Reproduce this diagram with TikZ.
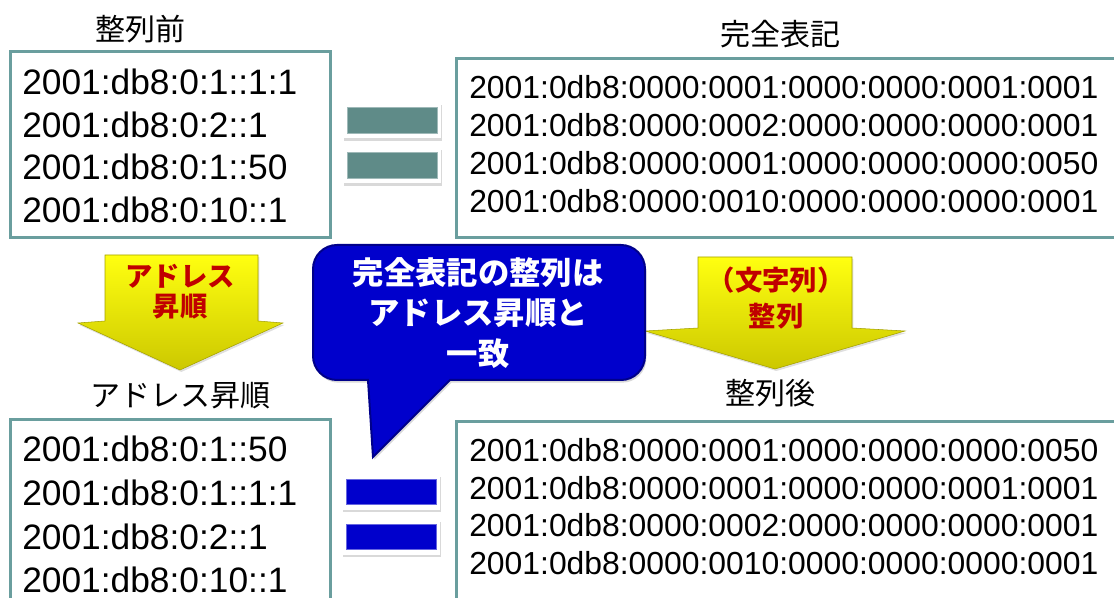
\documentclass[tikz,border=0pt]{standalone}
\usepackage{fontspec}
\setmainfont{Liberation Sans}
\newfontfamily\jp{Noto Sans CJK JP}
\usetikzlibrary{shadows}
\definecolor{teal1}{HTML}{6A9E9E}
\definecolor{eqteal}{HTML}{5F8B88}
\definecolor{cblue}{HTML}{0000CC}
\definecolor{cbluedark}{HTML}{00008A}
\definecolor{dred}{HTML}{C00000}
\definecolor{ytop}{HTML}{FFFF10}
\definecolor{ybot}{HTML}{CCC800}
\tikzset{
  listbox/.style={draw=teal1, line width=2.3pt, fill=white, anchor=north west, inner sep=0pt},
  bigline/.style={anchor=base west, inner sep=0pt, font=\fontsize{26.5}{30}\selectfont},
  fullline/.style={anchor=base west, inner sep=0pt, font=\fontsize{23.9}{28}\selectfont},
  title/.style={inner sep=0pt, font=\jp\fontsize{22.5}{26}\selectfont},
  eqframe/.style={fill=white, minimum width=73.5pt, minimum height=26.5pt, inner sep=0pt,
    drop shadow={shadow xshift=1pt, shadow yshift=-2pt, opacity=0.3}},
  eqbar/.style={minimum width=67.5pt, minimum height=19pt, inner sep=0pt},
  yarrow/.style={top color=ytop, bottom color=ybot, draw=ybot!80!black, line width=0.4pt,
    drop shadow={shadow xshift=1pt, shadow yshift=-1.5pt, opacity=0.25}},
  arrowtext/.style={text=dred, align=center, inner sep=0pt, font=\jp\bfseries\fontsize{20.5}{24}\selectfont},
}
\begin{document}
\begin{tikzpicture}[x=0.75pt, y=-0.75pt]
\useasboundingbox (0,0) rectangle (1114,598);
\clip (0,0) rectangle (1114,598);

% titles
\node[title] (t1) at (140,29) {整列前};
\node[title] (t2) at (780,34) {完全表記};
\node[title] (t3) at (180,396) {アドレス昇順};
\node[title] (t4) at (770,393) {整列後};

% boxes
\node[listbox, minimum width=240pt, minimum height=139.5pt] (tl) at (9,50) {};
\node[listbox, minimum width=540pt, minimum height=134pt] (tr) at (455,57) {};
\node[listbox, minimum width=240pt, minimum height=150pt] (bl) at (9,418) {};
\node[listbox, minimum width=540pt, minimum height=150pt] (br) at (455,420) {};

% list texts
\node[bigline] (tl1) at (22,95) {2001:db8:0:1::1:1};
\node[bigline] (tl2) at (22,138) {2001:db8:0:2::1};
\node[bigline] (tl3) at (22,180) {2001:db8:0:1::50};
\node[bigline] (tl4) at (22,223) {2001:db8:0:10::1};

\node[fullline] (tr1) at (469,99) {2001:0db8:0000:0001:0000:0000:0001:0001};
\node[fullline] (tr2) at (469,137) {2001:0db8:0000:0002:0000:0000:0000:0001};
\node[fullline] (tr3) at (469,175) {2001:0db8:0000:0001:0000:0000:0000:0050};
\node[fullline] (tr4) at (469,213) {2001:0db8:0000:0010:0000:0000:0000:0001};

\node[bigline] (bl1) at (22,462) {2001:db8:0:1::50};
\node[bigline] (bl2) at (22,505) {2001:db8:0:1::1:1};
\node[bigline] (bl3) at (22,549) {2001:db8:0:2::1};
\node[bigline] (bl4) at (22,592) {2001:db8:0:10::1};

\node[fullline] (br1) at (469,461) {2001:0db8:0000:0001:0000:0000:0000:0050};
\node[fullline] (br2) at (469,499) {2001:0db8:0000:0001:0000:0000:0001:0001};
\node[fullline] (br3) at (469,536) {2001:0db8:0000:0002:0000:0000:0000:0001};
\node[fullline] (br4) at (469,574) {2001:0db8:0000:0010:0000:0000:0000:0001};

% equals signs
\node[eqframe] (eqa) at (392,120.5) {};
\node[eqbar, fill=eqteal, draw=eqteal!60!white, line width=0.6pt] (eqab) at (eqa.center) {};
\node[eqframe] (eqb) at (392,165.5) {};
\node[eqbar, fill=eqteal, draw=eqteal!60!white, line width=0.6pt] (eqbb) at (eqb.center) {};
\node[eqframe] (eqc) at (391,492) {};
\node[eqbar, fill=cblue, draw=cblue!60!white, line width=0.6pt] (eqcb) at (eqc.center) {};
\node[eqframe] (eqd) at (391,537) {};
\node[eqbar, fill=cblue, draw=cblue!60!white, line width=0.6pt] (eqdb) at (eqd.center) {};

% yellow arrows
\path[yarrow] (105,255) -- (258,255) -- (258,321) -- (283,323) -- (180,370) -- (78,323) -- (105,321) -- cycle;
\node[arrowtext] (la1) at (180,276) {アドレス};
\node[arrowtext] (la2) at (180,307) {昇順};

\path[yarrow] (698,257) -- (852,257) -- (852,328) -- (905,331) -- (775,369) -- (645,331) -- (698,328) -- cycle;
\node[arrowtext] (ra1) at (776,280) {（文字列）};
\node[arrowtext] (ra2) at (776,316) {整列};

% callout
\path[fill=cblue, draw=cbluedark, line width=1.5pt,
  drop shadow={shadow xshift=1pt, shadow yshift=-2pt, opacity=0.3}]
  (368,380) -- (373,457) -- (450,380) [rounded corners=18pt] -- (645,380) -- (645,245) -- (313,245) -- (313,380) [sharp corners] -- cycle;
\node[text=white, align=center, inner sep=0pt, font=\jp\bfseries\fontsize{23.5}{30.5}\selectfont] (callout) at (478,313)
  {完全表記の整列は\\アドレス昇順と\\一致};
\end{tikzpicture}
\end{document}
